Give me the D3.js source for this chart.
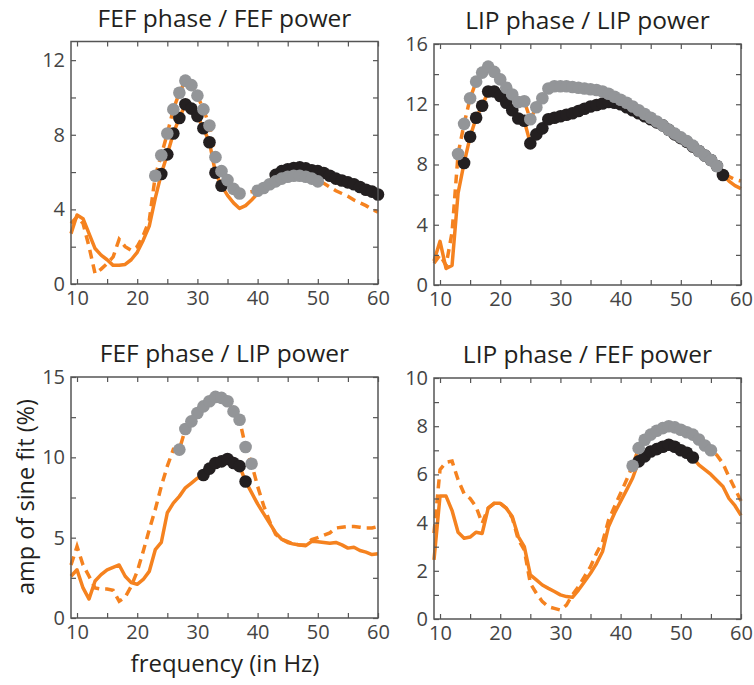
<!DOCTYPE html>
<html>
<head>
<meta charset="utf-8">
<script src="https://cdn.jsdelivr.net/npm/d3@7"></script>
<style>
  body { margin: 0; background: #fff; }
  svg text { font-family: "Open Sans", "DejaVu Sans", sans-serif; }
</style>
</head>
<body>
<svg id="chart" width="754" height="685"></svg>
<script>
// frequencies, 1 Hz steps
var freqs = d3.range(9, 61);

// FEF phase / FEF power
var fefFefSolid = [2.7, 3.7, 3.5, 2.7, 1.9, 1.55, 1.3, 1.0, 1.0, 1.05, 1.3, 1.7, 2.35, 3.1, 4.6, 5.9, 6.95, 8.07, 8.9, 9.64,
  9.4, 9.0, 8.35, 7.6, 5.96, 5.27, 4.75, 4.35, 4.05, 4.2, 4.5, 4.85, 5.2, 5.5, 5.85, 6.05, 6.15, 6.22, 6.25, 6.2,
  6.1, 6.05, 5.95, 5.8, 5.65, 5.55, 5.45, 5.35, 5.2, 5.05, 4.95, 4.8];
var fefFefDashed = [3.25, 3.6, 3.25, 2.0, 0.55, 0.8, 1.1, 1.45, 2.4, 2.0, 1.8, 2.0, 2.6, 3.4, 5.8, 6.9, 8.07, 9.36, 10.25, 10.9,
  10.66, 10.1, 9.36, 8.5, 6.8, 6.05, 5.57, 5.1, 4.85, 4.9, 4.95, 5.0, 5.15, 5.35, 5.5, 5.65, 5.75, 5.8, 5.8, 5.75,
  5.65, 5.5, 5.4, 5.2, 5.0, 4.85, 4.7, 4.5, 4.35, 4.2, 4.0, 3.85];
var fefFefBlack = d3.range(24, 35).concat(d3.range(43, 61));
var fefFefGray = d3.range(23, 38).concat(d3.range(40, 51));

// LIP phase / LIP power
var lipLipSolid = [1.6, 2.9, 1.1, 1.3, 6.1, 8.1, 9.84, 11.1, 11.9, 12.85, 12.85, 12.55, 12.1, 11.6, 11.05, 10.9, 9.4, 10.0, 10.4, 11.0,
  11.1, 11.2, 11.3, 11.4, 11.55, 11.7, 11.85, 11.95, 12.05, 12.15, 12.1, 12.0, 11.8, 11.6, 11.4, 11.2, 11.0, 10.8, 10.6, 10.3,
  10.0, 9.75, 9.5, 9.2, 8.9, 8.6, 8.3, 7.9, 7.3, 6.9, 6.6, 6.4];
var lipLipDashed = [1.45, 2.0, 1.3, 3.5, 8.7, 10.7, 12.4, 13.5, 14.1, 14.5, 14.15, 13.65, 13.1, 12.65, 12.15, 12.2, 11.0, 11.8, 12.4, 13.05,
  13.2, 13.2, 13.2, 13.15, 13.1, 13.05, 13.0, 12.95, 12.85, 12.7, 12.5, 12.3, 12.1, 11.85, 11.6, 11.35, 11.1, 10.85, 10.6, 10.3,
  10.05, 9.8, 9.55, 9.25, 8.9, 8.6, 8.3, 7.9, 7.5, 7.2, 7.0, 6.9];
var lipLipBlack = d3.range(14, 58);
var lipLipGray = d3.range(13, 57);

// FEF phase / LIP power
var fefLipSolid = [2.6, 3.0, 1.87, 1.18, 2.3, 2.7, 3.0, 3.15, 3.3, 2.6, 2.2, 2.1, 2.4, 2.9, 4.25, 4.7, 6.55, 7.15, 7.57, 8.1,
  8.4, 8.7, 8.9, 9.3, 9.65, 9.75, 9.9, 9.65, 9.45, 8.5, 7.8, 7.1, 6.5, 5.9, 5.3, 4.9, 4.7, 4.6, 4.55, 4.5,
  4.77, 4.75, 4.7, 4.65, 4.7, 4.55, 4.35, 4.4, 4.2, 4.1, 3.95, 4.0];
var fefLipDashed = [3.3, 4.45, 3.3, 2.6, 1.87, 1.8, 1.8, 1.72, 1.04, 1.3, 1.97, 2.9, 4.15, 5.5, 6.75, 8.2, 9.45, 10.5, 10.48, 11.76,
  12.24, 12.76, 13.17, 13.49, 13.76, 13.7, 13.49, 12.86, 12.34, 10.64, 9.6, 8.2, 7.0, 6.0, 5.2, 4.9, 4.75, 4.6, 4.55, 4.55,
  4.88, 5.0, 5.15, 5.3, 5.6, 5.65, 5.7, 5.7, 5.65, 5.6, 5.6, 5.7];
var fefLipBlack = d3.range(31, 39);
var fefLipGray = d3.range(27, 40);

// LIP phase / FEF power
var lipFefSolid = [2.45, 5.1, 5.1, 4.5, 3.6, 3.35, 3.4, 3.6, 3.55, 4.6, 4.8, 4.8, 4.6, 4.25, 3.42, 3.0, 1.83, 1.62, 1.41, 1.27,
  1.14, 1.0, 0.93, 0.9, 1.2, 1.55, 1.9, 2.3, 2.8, 3.84, 4.4, 4.88, 5.36, 5.85, 6.54, 6.75, 6.95, 7.05, 7.15, 7.23,
  7.15, 7.0, 6.9, 6.7, 6.4, 6.2, 6.0, 5.75, 5.5, 5.0, 4.7, 4.3];
var lipFefDashed = [3.56, 6.2, 6.5, 6.55, 5.78, 5.2, 5.0, 4.65, 3.97, 4.6, 4.8, 4.8, 4.6, 4.2, 3.3, 2.87, 1.48, 1.07, 0.72, 0.51,
  0.44, 0.37, 0.58, 1.0, 1.34, 1.76, 2.17, 2.73, 3.2, 4.1, 4.67, 5.22, 5.78, 6.36, 7.09, 7.44, 7.65, 7.81, 7.92, 8.0,
  7.95, 7.85, 7.75, 7.65, 7.45, 7.2, 7.0, 6.8, 6.45, 5.9, 5.4, 4.9];
var lipFefBlack = d3.range(43, 53);
var lipFefGray = d3.range(42, 56);

var xTicks = [10, 20, 30, 40, 50, 60];
var xMinor = d3.range(10, 61, 5);

var panels = [
  { title: "FEF phase / FEF power", solid: fefFefSolid, dashed: fefFefDashed, black: fefFefBlack, gray: fefFefGray,
    box: [71, 378, 41.5, 284], ymax: 13, yLabels: [0, 4, 8, 12], yStep: 2 },
  { title: "LIP phase / LIP power", solid: lipLipSolid, dashed: lipLipDashed, black: lipLipBlack, gray: lipLipGray,
    box: [434, 741, 44, 285], ymax: 16, yLabels: [0, 4, 8, 12, 16], yStep: 2 },
  { title: "FEF phase / LIP power", solid: fefLipSolid, dashed: fefLipDashed, black: fefLipBlack, gray: fefLipGray,
    box: [71, 378, 377, 618], ymax: 15, yLabels: [0, 5, 10, 15], yStep: 2.5 },
  { title: "LIP phase / FEF power", solid: lipFefSolid, dashed: lipFefDashed, black: lipFefBlack, gray: lipFefGray,
    box: [434, 741, 378, 619], ymax: 10, yLabels: [0, 2, 4, 6, 8, 10], yStep: 1 }
];

var orange = "#f5821f", grayDot = "#939598", blackDot = "#231f20", axisCol = "#555", labelCol = "#444";
var svg = d3.select("#chart");

panels.forEach(function (p) {
  var x = d3.scaleLinear().domain([9, 60]).range([p.box[0], p.box[1]]);
  var y = d3.scaleLinear().domain([0, p.ymax]).range([p.box[3], p.box[2]]);
  var g = svg.append("g");
  var rows = freqs.map(function (f, i) { return { f: f, s: p.solid[i], d: p.dashed[i] }; });
  var line = function (key) {
    return d3.line().x(function (d) { return x(d.f); }).y(function (d) { return y(d[key]); });
  };

  g.append("path").datum(rows).attr("d", line("d"))
    .attr("fill", "none").attr("stroke", orange).attr("stroke-width", 3.5)
    .attr("stroke-dasharray", "9,6");
  g.append("path").datum(rows).attr("d", line("s"))
    .attr("fill", "none").attr("stroke", orange).attr("stroke-width", 3.5)
    .attr("stroke-linejoin", "round");

  g.selectAll(".blk").data(rows.filter(function (r) { return p.black.includes(r.f); }))
    .enter().append("circle")
    .attr("cx", function (d) { return x(d.f); }).attr("cy", function (d) { return y(d.s); })
    .attr("r", 6.3).attr("fill", blackDot);
  g.selectAll(".gry").data(rows.filter(function (r) { return p.gray.includes(r.f); }))
    .enter().append("circle")
    .attr("cx", function (d) { return x(d.f); }).attr("cy", function (d) { return y(d.d); })
    .attr("r", 6.3).attr("fill", grayDot);

  // box with inward ticks on every side
  var w = p.box[1] - p.box[0], h = p.box[3] - p.box[2];
  g.append("rect").attr("x", p.box[0]).attr("y", p.box[2]).attr("width", w).attr("height", h)
    .attr("fill", "none").attr("stroke", axisCol).attr("stroke-width", 1.5);

  var bottom = g.append("g").attr("transform", "translate(0," + p.box[3] + ")")
    .call(d3.axisBottom(x).tickValues(xMinor).tickSizeInner(-5).tickSizeOuter(0).tickFormat(function (d) {
      return xTicks.includes(d) ? d : "";
    }));
  var top = g.append("g").attr("transform", "translate(0," + p.box[2] + ")")
    .call(d3.axisTop(x).tickValues(xMinor).tickSizeInner(-5).tickSizeOuter(0).tickFormat(""));
  var yTickVals = d3.range(0, p.ymax + 0.001, p.yStep);
  var left = g.append("g").attr("transform", "translate(" + p.box[0] + ",0)")
    .call(d3.axisLeft(y).tickValues(yTickVals).tickSizeInner(-5).tickSizeOuter(0).tickFormat(function (d) {
      return p.yLabels.includes(d) ? d : "";
    }));
  var right = g.append("g").attr("transform", "translate(" + p.box[1] + ",0)")
    .call(d3.axisRight(y).tickValues(yTickVals).tickSizeInner(-5).tickSizeOuter(0).tickFormat(""));

  [bottom, top, left, right].forEach(function (a) {
    a.select(".domain").remove();
    a.selectAll(".tick line").attr("stroke", axisCol).attr("stroke-width", 1.2);
    a.selectAll("text").attr("fill", labelCol).style("font-size", "20px");
  });
  bottom.selectAll("text").attr("y", 4).attr("dy", "0.85em");
  left.selectAll("text").attr("x", -6);

  g.append("text").attr("x", (p.box[0] + p.box[1]) / 2).attr("y", p.box[2] - 15)
    .attr("text-anchor", "middle").attr("fill", "#231f20").style("font-size", "24.5px").text(p.title);
});

svg.append("text").attr("x", 225).attr("y", 672).attr("text-anchor", "middle")
  .attr("fill", "#231f20").style("font-size", "24px").text("frequency (in Hz)");
svg.append("text").attr("transform", "translate(34,497) rotate(-90)").attr("text-anchor", "middle")
  .attr("fill", "#231f20").style("font-size", "23.5px").text("amp of sine fit (%)");
</script>
</body>
</html>
